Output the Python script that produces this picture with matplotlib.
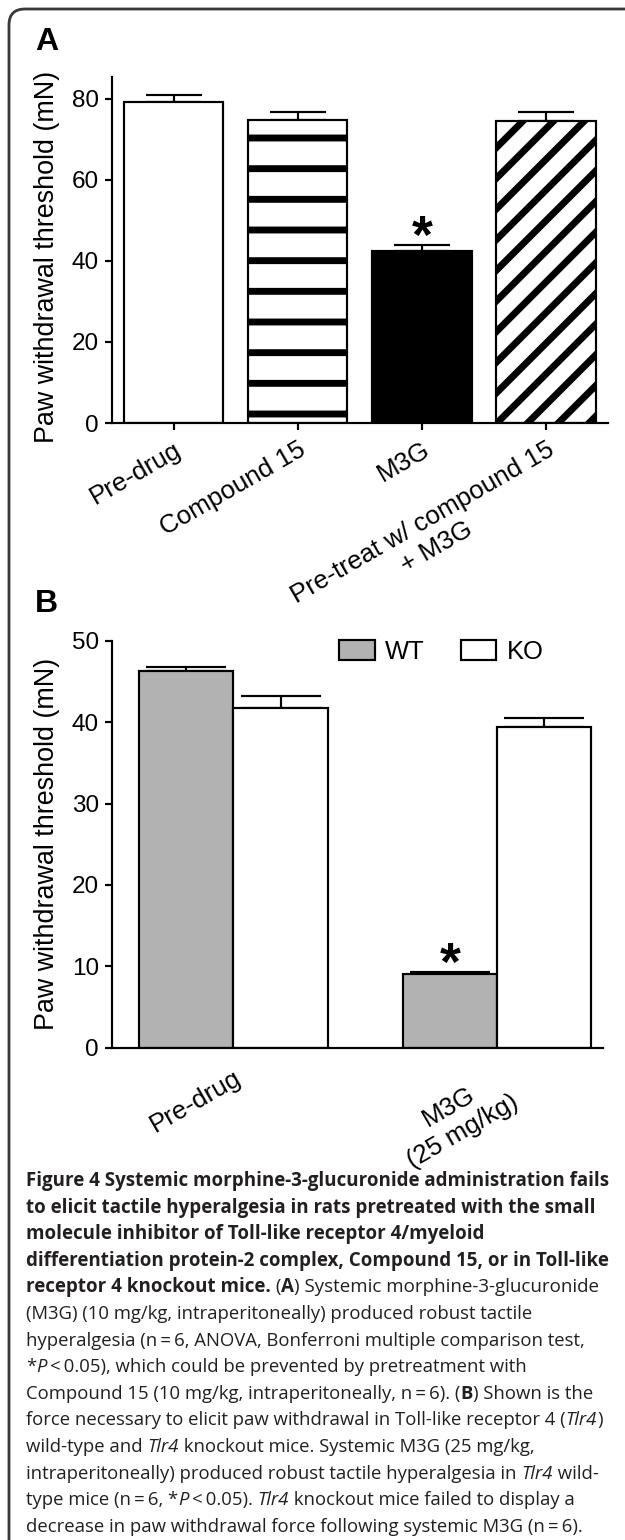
import matplotlib
matplotlib.use("Agg")
import matplotlib.pyplot as plt
import numpy as np
from matplotlib import font_manager
from matplotlib.font_manager import FontProperties
from matplotlib.patches import FancyBboxPatch
from matplotlib.transforms import IdentityTransform

# -------------------------------
# Data
# -------------------------------
groups_a = ["Pre-drug", "Compound 15", "M3G", "Pre-treat w/ compound 15\n+ M3G"]
means_a = [79.2, 74.7, 42.4, 74.5]
sem_a = [1.8, 2.0, 1.6, 2.2]
signif_a = [False, False, True, False]

groups_b = ["Pre-drug", "M3G\n(25 mg/kg)"]
wt_means = [46.3, 9.1]
wt_sem = [0.45, 0.15]
ko_means = [41.7, 39.4]
ko_sem = [1.5, 1.05]
signif_wt = [False, True]

yticks_a = [0, 20, 40, 60, 80]
yticks_b = [0, 10, 20, 30, 40, 50]
ylabel = "Paw withdrawal threshold (mN)"

# caption, line by line: (text, style) with style in r=regular, b=bold, i=italic
caption_lines = [
    [("Figure 4 Systemic morphine-3-glucuronide administration fails", "b")],
    [("to elicit tactile hyperalgesia in rats pretreated with the small", "b")],
    [("molecule inhibitor of Toll-like receptor 4/myeloid", "b")],
    [("differentiation protein-2 complex, Compound 15, or in Toll-like", "b")],
    [("receptor 4 knockout mice.", "b"), (" (", "r"), ("A", "b"),
     (") Systemic morphine-3-glucuronide", "r")],
    [("(M3G) (10 mg/kg, intraperitoneally) produced robust tactile", "r")],
    [("hyperalgesia (n\u2009=\u20096, ANOVA, Bonferroni multiple comparison test,", "r")],
    [("*", "r"), ("P", "i"), ("\u2009<\u20090.05), which could be prevented by pretreatment with", "r")],
    [("Compound 15 (10 mg/kg, intraperitoneally, n\u2009=\u20096). (", "r"), ("B", "b"),
     (") Shown is the", "r")],
    [("force necessary to elicit paw withdrawal in Toll-like receptor 4 (", "r"),
     ("Tlr4", "i"), (")", "r")],
    [("wild-type and ", "r"), ("Tlr4", "i"), (" knockout mice. Systemic M3G (25 mg/kg,", "r")],
    [("intraperitoneally) produced robust tactile hyperalgesia in ", "r"), ("Tlr4", "i"),
     (" wild-", "r")],
    [("type mice (n\u2009=\u20096, *", "r"), ("P", "i"), ("\u2009<\u20090.05). ", "r"), ("Tlr4", "i"),
     (" knockout mice failed to display a", "r")],
    [("decrease in paw withdrawal force following systemic M3G (n\u2009=\u20096).", "r")],
]

# -------------------------------
# Figure setup (pixel layout of a 625x1540 image)
# -------------------------------
W, H, DPI = 625, 1540, 184
plt.rcParams["font.family"] = ["Liberation Sans", "DejaVu Sans"]
plt.rcParams["hatch.linewidth"] = 2.7
plt.rcParams["hatch.color"] = "#1a1a1a"
plt.rcParams["axes.linewidth"] = 0.85

fig = plt.figure(figsize=(W / DPI, H / DPI), dpi=DPI)


def px_axes(left, top, right, bottom):
    return fig.add_axes([left / W, 1 - bottom / H, (right - left) / W, (bottom - top) / H])


def style_axes(ax):
    ax.spines["top"].set_visible(False)
    ax.spines["right"].set_visible(False)
    ax.tick_params(axis="y", direction="out", length=2.8, width=0.85, pad=2.2, labelsize=9.5)
    ax.set_ylabel(ylabel, fontsize=10.5)


def add_star(ax, x, top):
    ax.annotate("*", xy=(x, top), xytext=(0, -3.0), textcoords="offset points",
                ha="center", va="baseline", fontsize=21, fontweight="bold")


# rounded frame; only the top-left corner falls inside the image
frame = FancyBboxPatch((9, -100), W + 100, H - 9 + 100,
                       boxstyle="round,pad=0,rounding_size=16",
                       transform=IdentityTransform(), facecolor="none",
                       edgecolor="#3a3a3a", linewidth=1.1)
fig.patches.append(frame)

# -------------------------------
# Panel A
# -------------------------------
ax_a = px_axes(111.7, 76.7, 608, 423)
x_a = np.arange(len(groups_a))
face_a = ["white", "white", "black", "white"]
hatch_a = [None, "-", None, "//"]
bars_a = ax_a.bar(x_a, means_a, width=0.8, color=face_a, edgecolor="black",
                  linewidth=0.85, zorder=2)
for bar, h in zip(bars_a, hatch_a):
    if h:
        bar.set_hatch(h)
ax_a.errorbar(x_a, means_a, yerr=[np.zeros(len(sem_a)), sem_a], fmt="none",
              ecolor="black", elinewidth=0.85, capsize=11, capthick=0.85, zorder=1)
for xi, m, s, sig in zip(x_a, means_a, sem_a, signif_a):
    if sig:
        add_star(ax_a, xi, m + s)
ax_a.set_xlim(-0.5, 3.5)
ax_a.set_ylim(0, 85.5)
ax_a.set_yticks(yticks_a)
ax_a.set_xticks(x_a)
ax_a.set_xticklabels(groups_a, fontsize=10.2)
ax_a.tick_params(axis="x", direction="out", length=2.8, width=0.85, pad=3)
plt.setp(ax_a.get_xticklabels(), rotation=30, ha="right", rotation_mode="anchor", ma="center")
style_axes(ax_a)
ax_a.yaxis.set_label_coords(-0.104, 0.48)

# -------------------------------
# Panel B
# -------------------------------
ax_b = px_axes(111.7, 640.7, 603, 1047.7)
x_b = np.arange(len(groups_b))
w_b = 0.357
bars_wt = ax_b.bar(x_b - w_b / 2, wt_means, width=w_b, color="#b2b2b2", edgecolor="black",
                   linewidth=0.85, zorder=2, label="WT")
bars_ko = ax_b.bar(x_b + w_b / 2, ko_means, width=w_b, color="white", edgecolor="black",
                   linewidth=0.85, zorder=2, label="KO")
ax_b.errorbar(x_b - w_b / 2, wt_means, yerr=[np.zeros(len(wt_sem)), wt_sem], fmt="none",
              ecolor="black", elinewidth=0.85, capsize=15.5, capthick=0.85, zorder=1)
ax_b.errorbar(x_b + w_b / 2, ko_means, yerr=[np.zeros(len(ko_sem)), ko_sem], fmt="none",
              ecolor="black", elinewidth=0.85, capsize=15.5, capthick=0.85, zorder=1)
for xi, m, s, sig in zip(x_b - w_b / 2, wt_means, wt_sem, signif_wt):
    if sig:
        add_star(ax_b, xi, m + s)
ax_b.set_xlim(-0.462, 1.402)
ax_b.set_ylim(0, 50)
ax_b.set_yticks(yticks_b)
ax_b.set_xticks(x_b)
ax_b.set_xticklabels(groups_b, fontsize=10.2)
ax_b.tick_params(axis="x", length=0, pad=7)
plt.setp(ax_b.get_xticklabels(), rotation=30, ha="right", rotation_mode="anchor", ma="center")
style_axes(ax_b)
ax_b.yaxis.set_label_coords(-0.105, 0.5)
ax_b.legend(handles=[bars_wt, bars_ko], labels=["WT", "KO"], ncol=2, frameon=False,
            loc="center left", bbox_to_anchor=(0.463, 0.972), borderpad=0, borderaxespad=0,
            handlelength=1.4, handleheight=0.85, handletextpad=0.4, columnspacing=1.4,
            fontsize=10)

# panel letters
fig.text(35 / W, 1 - 50 / H, "A", fontsize=12.5, fontweight="bold", va="baseline")
fig.text(35 / W, 1 - 612 / H, "B", fontsize=12.5, fontweight="bold", va="baseline")

# -------------------------------
# Caption (mixed bold / regular / italic runs)
# -------------------------------
renderer = fig.canvas.get_renderer()
installed = {f.name for f in font_manager.fontManager.ttflist}
if "Liberation Sans Narrow" in installed:
    cap_family = ["Liberation Sans Narrow", "DejaVu Sans"]
else:
    cap_family = ["Open Sans", "DejaVu Sans"]


def cap_props(style, size):
    return FontProperties(family=cap_family, size=size,
                          weight="bold" if style == "b" else "normal",
                          style="italic" if style == "i" else "normal")


def run_width(text, style, size):
    prop = cap_props(style, size)
    w_full = renderer.get_text_width_height_descent("x" + text + "x", prop, ismath=False)[0]
    w_xx = renderer.get_text_width_height_descent("xx", prop, ismath=False)[0]
    return w_full - w_xx


def line_width(segments, size):
    return sum(run_width(t, s, size) for t, s in segments)


# font size chosen so the lines span the same width as in the reference
bold_size = 7.0 * 581 / line_width(caption_lines[0], 7.0)
reg_size = 7.0 * 574 / line_width(caption_lines[9], 7.0)

x0, y0, dy = 26, 1186, 26.6
for k, segments in enumerate(caption_lines):
    size = bold_size if segments[0][1] == "b" else reg_size
    x = x0
    for text, style in segments:
        fig.text(x / W, 1 - (y0 + k * dy) / H, text, fontproperties=cap_props(style, size),
                 color="#231f20", va="baseline", ha="left")
        x += run_width(text, style, size)

fig.savefig("out.png", dpi=DPI)
